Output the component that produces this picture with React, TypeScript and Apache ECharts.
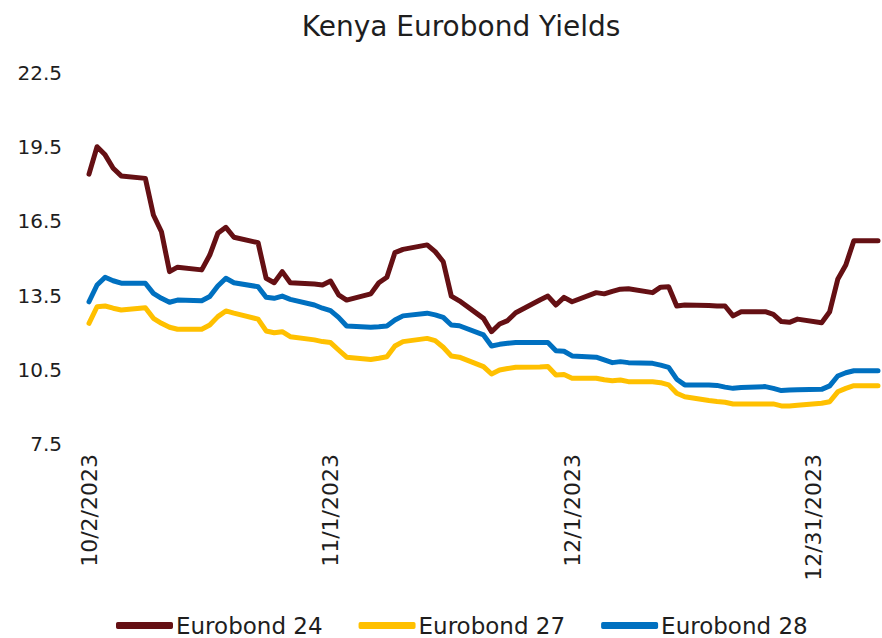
import React, { useEffect, useRef } from "react";
import * as echarts from "echarts";

// Trading days, as day offsets from 10/2/2023
const startDate = [2023, 9, 2]; // year, monthIndex, day
const dayOffsets = [
  0, 1, 2, 3, 4, 7, 8, 9, 10, 11, 14, 15, 16, 17, 18, 21, 22, 23, 24, 25,
  28, 29, 30, 31, 32, 35, 36, 37, 38, 39, 42, 43, 44, 45, 46, 49, 50, 51, 52, 53,
  56, 57, 58, 59, 60, 63, 64, 65, 66, 67, 70, 71, 72, 73, 74, 77, 78, 79, 80, 81,
  84, 85, 86, 87, 88, 91, 92, 93, 94, 95, 98,
];

const eurobond24 = [
  18.41, 19.52, 19.19, 18.65, 18.34, 18.24, 16.76, 16.08, 14.47, 14.65,
  14.54, 15.14, 16.02, 16.26, 15.86, 15.64, 14.2, 14.02, 14.47, 14.02,
  13.97, 13.93, 14.09, 13.53, 13.32, 13.57, 14.02, 14.24, 15.24, 15.37,
  15.55, 15.28, 14.87, 13.48, 13.29, 12.58, 12.04, 12.35, 12.49, 12.81,
  13.32, 13.48, 13.12, 13.43, 13.25, 13.62, 13.57, 13.67, 13.76, 13.78,
  13.62, 13.84, 13.86, 13.08, 13.12, 13.1, 13.08, 13.08, 12.68, 12.85,
  12.85, 12.74, 12.45, 12.42, 12.55, 12.4, 12.85, 14.16, 14.74, 15.72, 15.72,
];

const eurobond27 = [
  12.38, 13.05, 13.08, 12.99, 12.92, 13.01, 12.58, 12.38, 12.22, 12.14,
  12.14, 12.31, 12.65, 12.88, 12.79, 12.55, 12.07, 12.0, 12.04, 11.84,
  11.71, 11.64, 11.6, 11.3, 11.01, 10.92, 10.97, 11.03, 11.46, 11.64,
  11.77, 11.68, 11.41, 11.06, 11.01, 10.63, 10.33, 10.49, 10.55, 10.6,
  10.61, 10.63, 10.29, 10.31, 10.16, 10.16, 10.1, 10.06, 10.09, 10.02,
  10.02, 9.98, 9.89, 9.55, 9.41, 9.26, 9.22, 9.19, 9.12, 9.12,
  9.12, 9.12, 9.04, 9.04, 9.07, 9.15, 9.21, 9.61, 9.75, 9.86, 9.86,
];

const eurobond28 = [
  13.25, 13.93, 14.24, 14.1, 14.0, 14.0, 13.59, 13.39, 13.23, 13.32,
  13.29, 13.46, 13.89, 14.2, 14.02, 13.86, 13.43, 13.39, 13.48, 13.35,
  13.12, 12.99, 12.89, 12.62, 12.27, 12.22, 12.24, 12.27, 12.51, 12.68,
  12.79, 12.72, 12.62, 12.31, 12.28, 11.91, 11.46, 11.53, 11.57, 11.6,
  11.6, 11.6, 11.27, 11.25, 11.06, 11.01, 10.9, 10.79, 10.83, 10.79,
  10.76, 10.69, 10.6, 10.12, 9.89, 9.89, 9.87, 9.8, 9.75, 9.78,
  9.82, 9.75, 9.66, 9.68, 9.69, 9.71, 9.85, 10.25, 10.38, 10.46, 10.46,
];

const seriesNames = ["Eurobond 24", "Eurobond 27", "Eurobond 28"];
const seriesColors = ["#651014", "#FFC000", "#0070C0"];

const FONT = "'DejaVu Sans', sans-serif";
const TEXT = "#1e1e1e";

function offsetToLabel(off: number): string {
  const d = new Date(startDate[0], startDate[1], startDate[2] + off);
  return `${d.getMonth() + 1}/${d.getDate()}/${d.getFullYear()}`;
}

export default function App() {
  const ref = useRef<HTMLDivElement>(null);
  useEffect(() => {
    if (!ref.current) return;
    const chart = echarts.init(ref.current, null, { renderer: "svg" });
    const allData = [eurobond24, eurobond27, eurobond28];
    chart.setOption({
      animation: false,
      backgroundColor: "#ffffff",
      title: {
        text: "Kenya Eurobond Yields",
        left: 456,
        textAlign: "center",
        top: 7,
        textStyle: { fontFamily: FONT, fontSize: 28, fontWeight: "normal", color: TEXT },
      },
      grid: { left: 89, right: 4, top: 73, bottom: 194, containLabel: false },
      xAxis: {
        type: "value",
        min: 0,
        max: 98,
        interval: 30,
        axisLine: { show: false },
        axisTick: { show: false },
        splitLine: { show: false },
        axisLabel: {
          rotate: 90,
          margin: 10,
          fontFamily: FONT,
          fontSize: 22,
          color: TEXT,
          showMaxLabel: false,
          formatter: (v: number) => (v % 30 === 0 ? offsetToLabel(v) : ""),
        },
      },
      yAxis: {
        type: "value",
        min: 7.5,
        max: 22.5,
        interval: 3,
        axisLine: { show: false },
        axisTick: { show: false },
        splitLine: { show: false },
        axisLabel: {
          margin: 27,
          fontFamily: FONT,
          fontSize: 20,
          color: TEXT,
          formatter: (v: number) => v.toFixed(1),
        },
      },
      legend: {
        bottom: -4,
        left: 111,
        icon: "roundRect",
        itemWidth: 57,
        itemHeight: 7,
        itemGap: 36,
        textStyle: { fontFamily: FONT, fontSize: 23, color: TEXT, padding: [0, 0, 0, -2] },
        data: seriesNames,
      },
      series: seriesNames.map((name, i) => ({
        name,
        type: "line",
        showSymbol: false,
        symbol: "none",
        color: seriesColors[i],
        lineStyle: { width: 5, color: seriesColors[i], cap: "round", join: "round" },
        data: dayOffsets.map((d, j) => [d, allData[i][j]]),
      })),
    });
    return () => chart.dispose();
  }, []);
  return (
    <div
      ref={ref}
      style={{ position: "absolute", left: 0, top: 0, width: 882, height: 638 }}
    />
  );
}
